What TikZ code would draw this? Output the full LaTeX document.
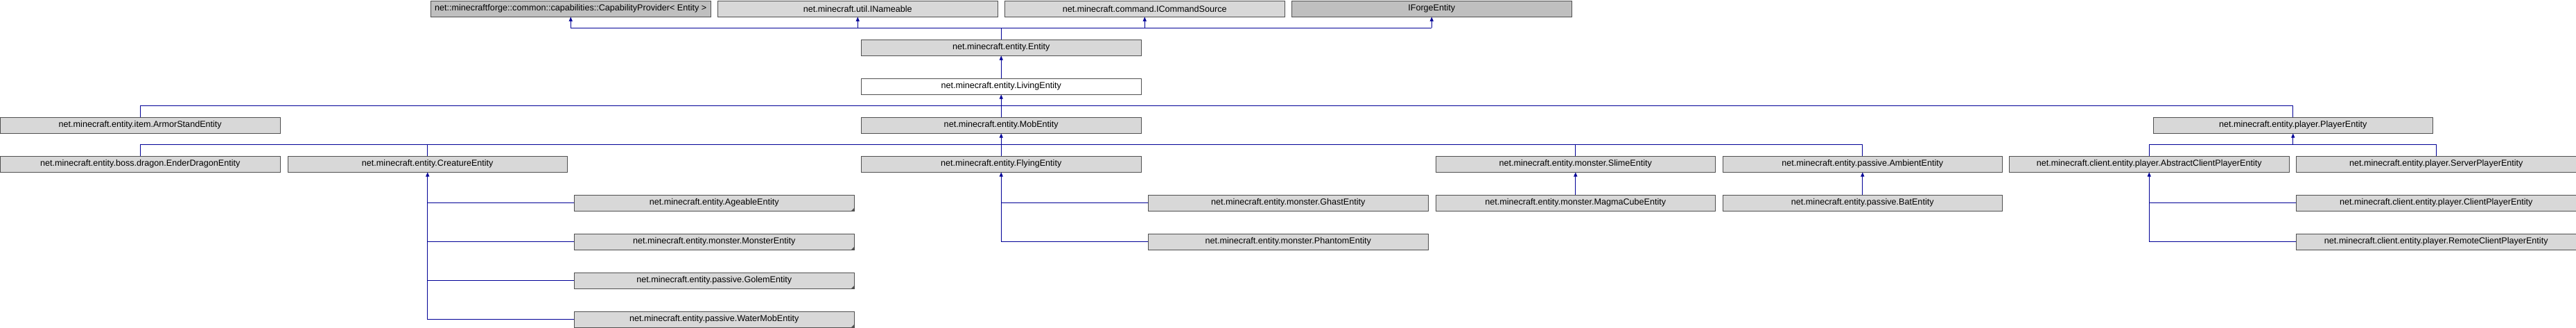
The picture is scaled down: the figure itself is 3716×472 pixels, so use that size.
\documentclass[tikz,border=0pt]{standalone}
\usepackage{fontspec}
\setmainfont{Liberation Sans}
\usetikzlibrary{arrows.meta}
\definecolor{edgeblue}{RGB}{0,0,150}
\definecolor{boxfill}{RGB}{216,216,216}
\definecolor{boxdark}{RGB}{191,191,191}
\definecolor{boxline}{RGB}{80,80,80}
\begin{document}
\begin{tikzpicture}[x=1pt,y=-1pt,
 cls/.style={draw=boxline, fill=boxfill, line width=1pt, minimum width=403.5pt, minimum height=23pt, inner sep=0pt, font=\fontsize{12.6}{14}\selectfont, anchor=north west},
 ext/.style={cls, fill=boxdark},
 doc/.style={cls, fill=white},
 conn/.style={draw=edgeblue, line width=1pt},
 arr/.style={conn, -{Triangle[width=5pt,length=6pt]}},
]
\useasboundingbox (0,0) rectangle (3716,472);
% row 0
\node[ext] (cap) at (621,0.5) {net::minecraftforge::common::capabilities::CapabilityProvider< Entity >};
\node[cls] (inam) at (1035,0.5) {net.minecraft.util.INameable};
\node[cls] (icmd) at (1449,0.5) {net.minecraft.command.ICommandSource};
\node[ext] (iforge) at (1863,0.5) {IForgeEntity};
% rows 1-2
\node[cls] (entity) at (1242,56.5) {net.minecraft.entity.Entity};
\node[doc] (living) at (1242,112.5) {net.minecraft.entity.LivingEntity};
% row 3
\node[cls] (armor) at (0,168.5) {net.minecraft.entity.item.ArmorStandEntity};
\node[cls] (mob) at (1242,168.5) {net.minecraft.entity.MobEntity};
\node[cls] (player) at (3105.5,168.5) {net.minecraft.entity.player.PlayerEntity};
% row 4
\node[cls] (ender) at (0,224.5) {net.minecraft.entity.boss.dragon.EnderDragonEntity};
\node[cls] (creature) at (414.5,224.5) {net.minecraft.entity.CreatureEntity};
\node[cls] (flying) at (1242,224.5) {net.minecraft.entity.FlyingEntity};
\node[cls] (slime) at (2070.5,224.5) {net.minecraft.entity.monster.SlimeEntity};
\node[cls] (ambient) at (2484.5,224.5) {net.minecraft.entity.passive.AmbientEntity};
\node[cls] (abstract) at (2898,224.5) {net.minecraft.client.entity.player.AbstractClientPlayerEntity};
\node[cls] (server) at (3312,224.5) {net.minecraft.entity.player.ServerPlayerEntity};
% row 5
\node[cls] (ageable) at (828,280.5) {net.minecraft.entity.AgeableEntity};
\node[cls] (ghast) at (1656,280.5) {net.minecraft.entity.monster.GhastEntity};
\node[cls] (magma) at (2070.5,280.5) {net.minecraft.entity.monster.MagmaCubeEntity};
\node[cls] (bat) at (2484.5,280.5) {net.minecraft.entity.passive.BatEntity};
\node[cls] (client) at (3312,280.5) {net.minecraft.client.entity.player.ClientPlayerEntity};
% row 6
\node[cls] (monster) at (828,336.5) {net.minecraft.entity.monster.MonsterEntity};
\node[cls] (phantom) at (1656,336.5) {net.minecraft.entity.monster.PhantomEntity};
\node[cls] (remote) at (3312,336.5) {net.minecraft.client.entity.player.RemoteClientPlayerEntity};
% rows 7-8
\node[cls] (golem) at (828,392.5) {net.minecraft.entity.passive.GolemEntity};
\node[cls] (water) at (828,448.5) {net.minecraft.entity.passive.WaterMobEntity};
% corner marks
\foreach \n in {ageable,monster,golem,water}
  \fill[boxline] (\n.south east) -- ++(-5,0) -- ++(5,-5) -- cycle;
% buses
\coordinate (bus0) at (0,40);
\coordinate (bus1) at (0,152);
\coordinate (bus2) at (0,208);
% Entity -> interfaces
\draw[conn] (cap.south |- bus0) -- (iforge.south |- bus0);
\foreach \n in {cap,inam,icmd,iforge}
  \draw[arr] (\n.south |- bus0) -- (\n.south);
\draw[conn] (entity.north) -- (entity.north |- bus0);
% LivingEntity -> Entity
\draw[arr] (living.north) -- (entity.south);
% row 3 -> LivingEntity
\draw[conn] (armor.north) -- (armor.north |- bus1) -- (player.north |- bus1) -- (player.north);
\draw[conn] (mob.north) -- (mob.north |- bus1);
\draw[arr] (mob.north |- bus1) -- (living.south);
% MobEntity children
\draw[conn] (ender.north) -- (ender.north |- bus2) -- (ambient.north |- bus2) -- (ambient.north);
\foreach \n in {creature,flying,slime}
  \draw[conn] (\n.north) -- (\n.north |- bus2);
\draw[arr] (mob.south |- bus2) -- (mob.south);
% PlayerEntity children
\draw[conn] (abstract.north) -- (abstract.north |- bus2) -- (server.north |- bus2) -- (server.north);
\draw[arr] (player.south |- bus2) -- (player.south);
% CreatureEntity children
\draw[arr] (creature.south |- water.west) -- (creature.south);
\foreach \n in {ageable,monster,golem,water}
  \draw[conn] (creature.south |- \n.west) -- (\n.west);
% FlyingEntity children
\draw[arr] (flying.south |- phantom.west) -- (flying.south);
\foreach \n in {ghast,phantom}
  \draw[conn] (flying.south |- \n.west) -- (\n.west);
% Slime, Ambient
\draw[arr] (magma.north) -- (slime.south);
\draw[arr] (bat.north) -- (ambient.south);
% AbstractClientPlayerEntity children
\draw[arr] (abstract.south |- remote.west) -- (abstract.south);
\foreach \n in {client,remote}
  \draw[conn] (abstract.south |- \n.west) -- (\n.west);
\end{tikzpicture}
\end{document}
